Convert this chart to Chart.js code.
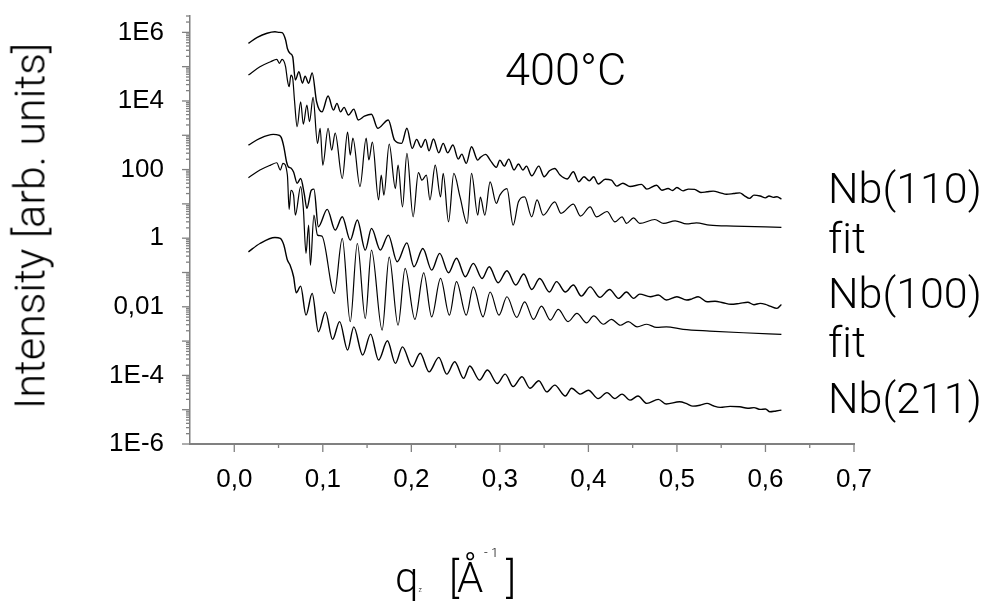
<!DOCTYPE html>
<html>
<head>
<meta charset="utf-8">
<script src="https://cdn.jsdelivr.net/npm/chart.js@4.4.1/dist/chart.umd.min.js"></script>
<style>
  body { margin: 0; background: #fff; }
  #wrap { position: relative; width: 987px; height: 602px; overflow: hidden; }
  .txt { position: absolute; font-family: Roboto, "Liberation Sans", Arial, sans-serif; font-weight: 300; color: #000;
         white-space: nowrap; line-height: 1; font-variant-ligatures: none; }
</style>
</head>
<body>
<div id="wrap">
  <canvas id="myChart" width="987" height="602"></canvas>
  <div class="txt" style="left:505px; top:47px; font-size:45px;">400°C</div>
  <div class="txt" style="left:828px; top:167px; font-size:43px;">Nb(110)</div>
  <div class="txt" style="left:828px; top:217px; font-size:43px;">fit</div>
  <div class="txt" style="left:828px; top:272px; font-size:43px;">Nb(100)</div>
  <div class="txt" style="left:828px; top:321px; font-size:43px;">fit</div>
  <div class="txt" style="left:828px; top:377px; font-size:43px;">Nb(211)</div>
  <div class="txt" style="left:30px; top:226px; font-size:43px; transform: translate(-50%, -50%) rotate(-90deg);">Intensity [arb. units]</div>
  <div class="txt" style="left:395px; top:557px; font-size:42px;">q<span style="font-size:7px;">z</span></div>
  <div class="txt" style="left:449px; top:557px; font-size:42px;">[</div>
  <div class="txt" style="left:457px; top:557px; font-size:42px;">Å</div>
  <div class="txt" style="left:484px; top:546px; font-size:13px;">- 1</div>
  <div class="txt" style="left:506px; top:557px; font-size:42px;">]</div>
</div>
<script>
// Nb(110) measured
const q110 = [0.016, 0.026, 0.037, 0.046, 0.051, 0.054, 0.058, 0.060, 0.063, 0.066, 0.069, 0.073, 0.077, 0.080, 0.084, 0.088,
  0.093, 0.099, 0.106, 0.112, 0.116, 0.120, 0.124, 0.129, 0.135, 0.140, 0.147, 0.155, 0.162, 0.174, 0.181, 0.189,
  0.195, 0.201, 0.206, 0.211, 0.216, 0.220, 0.225, 0.231, 0.236, 0.241, 0.247, 0.253, 0.257, 0.262, 0.268, 0.275,
  0.278, 0.284, 0.289, 0.296, 0.300, 0.305, 0.310, 0.316, 0.321, 0.326, 0.330, 0.336, 0.344, 0.350, 0.356, 0.362,
  0.368, 0.376, 0.383, 0.389, 0.395, 0.401, 0.406, 0.411, 0.419, 0.426, 0.432, 0.439, 0.447, 0.460, 0.466, 0.477,
  0.483, 0.490, 0.495, 0.500, 0.507, 0.513, 0.520, 0.527, 0.534, 0.541, 0.549, 0.556, 0.564, 0.571, 0.576, 0.582,
  0.587, 0.594, 0.600, 0.604, 0.609, 0.613, 0.618];
const nb110 = [4.8e5, 7.1e5, 9.4e5, 1.04e6, 1.0e6, 9.8e5, 6.0e5, 3.4e5, 2.44e5, 1.94e5, 4.1e4, 7.1e4, 3.3e4, 5.3e4, 3.3e4, 6.6e4,
  9.5e3, 4.8e3, 1.39e4, 5.4e3, 8.5e3, 4.8e3, 6.5e3, 3.9e3, 5.8e3, 2.8e3, 3.6e3, 4.1e3, 1.6e3, 2.8e3, 720, 580,
  1600, 415, 760, 445, 760, 353, 775, 309, 580, 309, 518, 202, 283, 152, 462, 189,
  227, 277, 189, 116, 189, 126, 202, 97, 145, 97, 126, 66, 126, 62, 92, 108,
  69, 53, 86, 44, 62, 47, 62, 38, 52, 49, 33, 40, 32, 37, 27, 35,
  25, 28, 24.5, 30, 24, 27, 26.5, 21.5, 22.5, 23.5, 21, 19, 20, 21, 17.5, 14.5,
  18, 17, 15, 17, 15.5, 16.2, 13.8];

// Nb(110) fit
const q110fit = [0.016, 0.029, 0.041, 0.048, 0.051, 0.054, 0.058, 0.060, 0.062, 0.064, 0.066, 0.068, 0.071, 0.075, 0.078, 0.082,
  0.085, 0.089, 0.094, 0.097, 0.100, 0.106, 0.110, 0.114, 0.122, 0.128, 0.131, 0.134, 0.142, 0.149, 0.152, 0.156,
  0.163, 0.166, 0.169, 0.175, 0.182, 0.185, 0.190, 0.195, 0.202, 0.208, 0.212, 0.217, 0.221, 0.227, 0.233, 0.236,
  0.242, 0.248, 0.255, 0.263, 0.268, 0.275, 0.278, 0.283, 0.289, 0.296, 0.300, 0.308, 0.315, 0.321, 0.328, 0.336,
  0.342, 0.349, 0.362, 0.369, 0.383, 0.391, 0.402, 0.409, 0.421, 0.430, 0.438, 0.443, 0.451, 0.458, 0.475, 0.485,
  0.498, 0.511, 0.522, 0.537, 0.564, 0.618];
const fit110 = [5.7e4, 9.9e4, 1.39e5, 1.63e5, 1.25e5, 1.63e5, 9.9e4, 4.1e4, 2.6e4, 5.7e4, 4.6e4, 1.06e4, 1.77e3, 9.5e3, 2.1e3, 7.6e3,
  2.5e3, 1.27e4, 580, 1.6e3, 135, 1.6e3, 370, 1.16e3, 55, 1.24e3, 265, 830, 32, 830, 190, 630,
  13, 69, 18, 550, 28, 135, 8.2, 297, 4.2, 81, 49, 69, 13, 135, 16, 77,
  3.0, 77, 16, 2.7, 77, 4.7, 15.8, 4.7, 44, 10.3, 18, 28, 2.4, 11.5, 16, 4.2,
  13, 4.7, 11.5, 5.3, 9.9, 4.4, 8.2, 4.2, 6.0, 3.0, 4.2, 2.7, 3.9, 2.7, 3.5, 2.7,
  3.2, 2.6, 2.8, 2.4, 2.25, 2.07];

// Nb(100) measured
const q100 = [0.016, 0.029, 0.044, 0.050, 0.053, 0.056, 0.059, 0.061, 0.064, 0.067, 0.071, 0.075, 0.079, 0.082, 0.087, 0.090,
  0.095, 0.105, 0.114, 0.122, 0.131, 0.139, 0.148, 0.155, 0.165, 0.174, 0.184, 0.195, 0.203, 0.213, 0.223, 0.232,
  0.242, 0.251, 0.261, 0.270, 0.280, 0.288, 0.298, 0.308, 0.318, 0.327, 0.336, 0.345, 0.356, 0.364, 0.374, 0.383,
  0.392, 0.402, 0.413, 0.424, 0.434, 0.443, 0.451, 0.458, 0.470, 0.479, 0.488, 0.500, 0.511, 0.517, 0.524, 0.534,
  0.543, 0.552, 0.561, 0.571, 0.580, 0.587, 0.594, 0.600, 0.605, 0.613, 0.618];
const nb100 = [518, 810, 1060, 1010, 870, 462, 169, 121, 111, 85, 40, 55, 20, 7.4, 25, 27,
  2.15, 6.9, 1.72, 4.2, 0.88, 3.4, 0.45, 1.93, 0.45, 1.23, 0.205, 0.73, 0.147, 0.50, 0.117, 0.36,
  0.098, 0.26, 0.075, 0.184, 0.067, 0.147, 0.050, 0.112, 0.043, 0.090, 0.032, 0.067, 0.027, 0.054, 0.027, 0.043,
  0.0205, 0.038, 0.0188, 0.032, 0.0176, 0.027, 0.0176, 0.0234, 0.0196, 0.022, 0.0157, 0.0196, 0.0157, 0.017, 0.0196, 0.014,
  0.0145, 0.0131, 0.0118, 0.0126, 0.0135, 0.0115, 0.0126, 0.0118, 0.0105, 0.0090, 0.0117];

// Nb(100) fit
const q100fit = [0.016, 0.029, 0.041, 0.048, 0.052, 0.055, 0.060, 0.062, 0.064, 0.067, 0.069, 0.075, 0.078, 0.081, 0.084, 0.086,
  0.090, 0.094, 0.099, 0.113, 0.122, 0.131, 0.139, 0.148, 0.155, 0.167, 0.175, 0.185, 0.193, 0.204, 0.214, 0.223,
  0.233, 0.243, 0.251, 0.262, 0.270, 0.281, 0.289, 0.299, 0.308, 0.319, 0.328, 0.338, 0.347, 0.357, 0.366, 0.377,
  0.387, 0.398, 0.406, 0.417, 0.426, 0.436, 0.445, 0.455, 0.466, 0.477, 0.488, 0.507, 0.537, 0.575, 0.618];
const fit100 = [58, 97, 135, 158, 97, 152, 69, 6.9, 25, 18, 4.7, 32, 7.5, 0.36, 2.4, 0.164,
  4.7, 1.23, 1.15, 0.0246, 0.99, 0.00366, 0.70, 0.0046, 0.45, 0.0021, 0.28, 0.0029, 0.132, 0.0043, 0.098, 0.0051,
  0.067, 0.0057, 0.054, 0.0057, 0.038, 0.0051, 0.027, 0.0057, 0.0196, 0.0049, 0.014, 0.0043, 0.0105, 0.0041, 0.0084, 0.0037,
  0.0064, 0.0034, 0.0054, 0.0031, 0.0043, 0.0029, 0.0037, 0.0026, 0.0031, 0.0025, 0.0026, 0.0022, 0.00196, 0.00175, 0.00157];

// Nb(211) measured
const q211 = [0.016, 0.029, 0.046, 0.052, 0.056, 0.060, 0.063, 0.067, 0.070, 0.075, 0.081, 0.088, 0.095, 0.103, 0.111, 0.119,
  0.128, 0.135, 0.145, 0.154, 0.163, 0.173, 0.182, 0.190, 0.201, 0.210, 0.220, 0.231, 0.240, 0.249, 0.259, 0.266,
  0.277, 0.286, 0.297, 0.306, 0.315, 0.325, 0.334, 0.344, 0.353, 0.362, 0.374, 0.381, 0.391, 0.400, 0.411, 0.421,
  0.430, 0.438, 0.447, 0.456, 0.466, 0.479, 0.488, 0.503, 0.511, 0.518, 0.526, 0.534, 0.541, 0.549, 0.560, 0.571,
  0.580, 0.587, 0.594, 0.600, 0.605, 0.612, 0.618];
const nb211 = [0.40, 0.70, 1.05, 0.99, 0.63, 0.23, 0.164, 0.075, 0.0256, 0.040, 0.0057, 0.0246, 0.00187, 0.0071, 0.00112, 0.0037,
  5.5e-4, 0.0026, 3.9e-4, 0.0016, 2.8e-4, 1.02e-3, 2.24e-4, 6.8e-4, 1.78e-4, 4.4e-4, 1.27e-4, 3.35e-4, 1.09e-4, 2.5e-4, 8.2e-5, 1.87e-4,
  7.3e-5, 1.43e-4, 5.8e-5, 1.09e-4, 4.7e-5, 9.1e-5, 4.2e-5, 7.0e-5, 3.3e-5, 5.2e-5, 2.5e-5, 4.2e-5, 2.85e-5, 3.7e-5, 2.1e-5, 3.15e-5,
  2.1e-5, 2.85e-5, 1.9e-5, 2.5e-5, 1.53e-5, 2.0e-5, 1.46e-5, 1.7e-5, 1.5e-5, 1.27e-5, 1.35e-5, 1.53e-5, 1.3e-5, 1.17e-5, 1.25e-5, 1.22e-5,
  1.1e-5, 1.15e-5, 1.02e-5, 1.05e-5, 8.7e-6, 9.2e-6, 9.7e-6];

const xTicks = [];
for (let k = -1; k <= 14; k++) xTicks.push(k * 0.05);

const axisGray = "#808080";
const tickFont = { family: "'Liberation Sans', Arial, sans-serif", size: 26 };

const toPoints = (qs, vals) => qs.map((q, i) => ({ x: q, y: vals[i] }));

const makeSet = (qs, vals, w) => ({
  data: toPoints(qs, vals),
  borderColor: "#000",
  borderWidth: w,
  pointRadius: 0,
  fill: false,
  cubicInterpolationMode: "monotone"
});

// draws the outside tick marks, long ones on majors
const tickMarks = {
  id: "tickMarks",
  afterDraw(chart) {
    const { ctx } = chart;
    const xs = chart.scales.x;
    const ys = chart.scales.y;
    ctx.save();
    ctx.strokeStyle = axisGray;
    ctx.lineWidth = 1.3;
    xs.ticks.forEach(t => {
      if (t.value < -0.001) return;
      const major = Math.abs(t.value * 10 - Math.round(t.value * 10)) < 1e-6;
      const px = xs.getPixelForValue(t.value);
      ctx.beginPath();
      ctx.moveTo(px, xs.top);
      ctx.lineTo(px, xs.top + (major ? 8 : 4));
      ctx.stroke();
    });
    ys.ticks.forEach(t => {
      const py = ys.getPixelForValue(t.value);
      ctx.beginPath();
      ctx.moveTo(ys.right - (t.major ? 8 : 4), py);
      ctx.lineTo(ys.right, py);
      ctx.stroke();
    });
    ctx.restore();
  }
};

const yLabel = (v) => {
  const e = Math.round(Math.log10(v));
  if (e === 2) return "100";
  if (e === 0) return "1";
  if (e === -2) return "0,01";
  return "1E" + e;
};

new Chart(document.getElementById("myChart"), {
  type: "line",
  data: {
    datasets: [
      makeSet(q110, nb110, 1.4),
      makeSet(q110fit, fit110, 1.2),
      makeSet(q100, nb100, 1.4),
      makeSet(q100fit, fit100, 1.2),
      makeSet(q211, nb211, 1.4)
    ]
  },
  options: {
    responsive: false,
    animation: false,
    layout: { padding: { left: 0, top: 16, right: 133, bottom: 0 } },
    plugins: { legend: { display: false }, tooltip: { enabled: false } },
    scales: {
      x: {
        type: "linear",
        min: -0.05,
        max: 0.7,
        afterBuildTicks: (s) => { s.ticks = xTicks.map(v => ({ value: v })); },
        afterFit: (s) => { s.height = 158; s.paddingLeft = 0; s.paddingRight = 0; },
        grid: { display: true, drawOnChartArea: false, drawTicks: false },
        border: { display: true, color: axisGray, width: 2 },
        ticks: {
          autoSkip: false,
          maxRotation: 0,
          padding: 20,
          color: "#000",
          font: tickFont,
          callback: (v) => {
            if (v < 0) return "";
            const major = Math.abs(v * 10 - Math.round(v * 10)) < 1e-6;
            return major ? v.toFixed(1).replace(".", ",") : "";
          }
        }
      },
      y: {
        type: "logarithmic",
        min: 1e-6,
        max: 3e6,
        afterBuildTicks: (s) => {
          const t = [];
          for (let e = -6; e <= 6; e++) {
            for (let m = 1; m <= 9; m++) {
              const v = m * Math.pow(10, e);
              if (v <= 3.0001e6) t.push({ value: v, major: m === 1 });
            }
          }
          s.ticks = t;
        },
        afterFit: (s) => { s.width = 190; s.paddingTop = 0; s.paddingBottom = 0; },
        grid: { display: true, drawOnChartArea: false, drawTicks: false },
        border: { display: true, color: axisGray, width: 1.5 },
        ticks: {
          autoSkip: false,
          padding: 26,
          color: "#000",
          font: tickFont,
          callback: (v, i, ticks) => {
            const t = ticks[i];
            if (!t.major) return "";
            const e = Math.round(Math.log10(v));
            return e % 2 === 0 ? yLabel(v) : "";
          }
        }
      }
    }
  },
  plugins: [tickMarks]
});
</script>
</body>
</html>
